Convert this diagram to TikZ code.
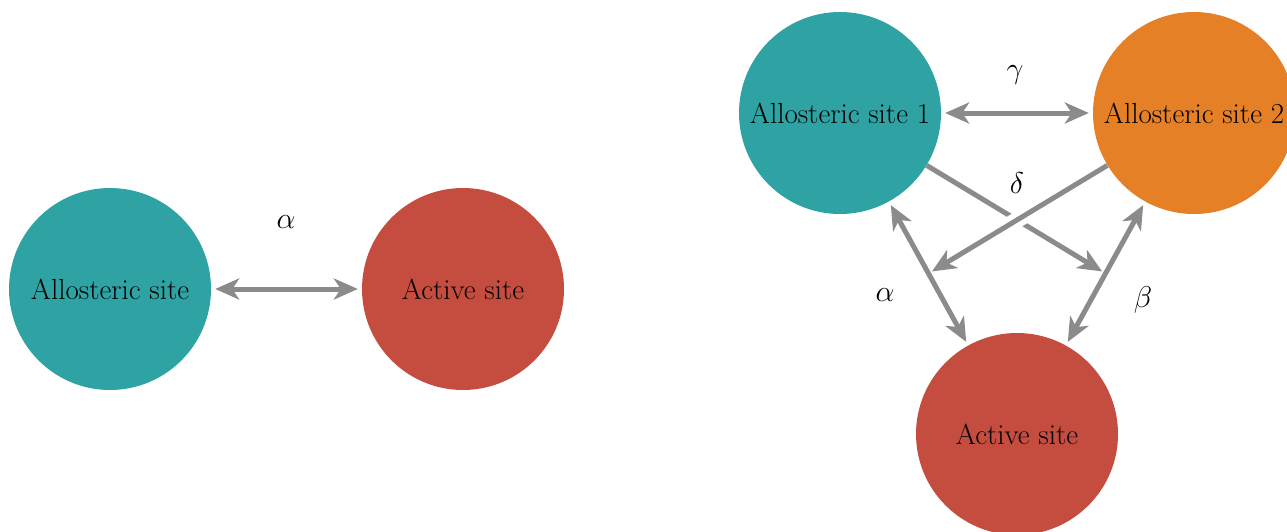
\RequirePackage{fix-cm}
\documentclass[tikz,border=0pt]{standalone}
\usepackage{amsmath}
\usetikzlibrary{arrows.meta, calc}

\definecolor{siteteal}{RGB}{47,163,164}
\definecolor{siteorange}{RGB}{229,128,39}
\definecolor{sitered}{RGB}{197,77,63}
\definecolor{linkgray}{RGB}{139,139,139}

\tikzset{
    site/.style={circle, minimum size=202pt, inner sep=0pt, text=black,
        font=\fontsize{29}{33}\selectfont},
    link/.style={draw=linkgray, line width=5pt, shorten >=4pt, shorten <=4pt},
    twohead/.style={{Stealth[length=24pt,width=21pt,inset=7pt]}-{Stealth[length=24pt,width=21pt,inset=7pt]}},
    onehead/.style={-{Stealth[length=24pt,width=21pt,inset=7pt]}},
    lbl/.style={font=\fontsize{30}{34}\selectfont}
}

\begin{document}
\begin{tikzpicture}[x=1pt, y=-1pt]
        \useasboundingbox (0,0) rectangle (1287,531);
        \clip (0,0) rectangle (1287,531);

        % one allosteric site
        \node[site, fill=siteteal] (allo) at (110,289) {Allosteric site};
        \node[site, fill=sitered] (act) at (463,289) {Active site};

        % two allosteric sites
        \node[site, fill=siteteal] (alloA) at (840,113) {Allosteric site 1};
        \node[site, fill=siteorange] (alloB) at (1194,113) {Allosteric site 2};
        \node[site, fill=sitered] (actB) at (1017,434) {Active site};

        \coordinate (midA) at ($(alloA.center)!0.5!(actB.center)$);
        \coordinate (midB) at ($(alloB.center)!0.5!(actB.center)$);

        \draw[link, twohead] (allo) -- (act);
        \draw[link, twohead] (alloA) -- (alloB);

        \draw[link, onehead, shorten <=0pt] (alloA) -- (midB);
        \draw[link, onehead, shorten <=0pt,
            preaction={draw=white, line width=16pt, arrows=-, shorten >=30pt}] (alloB) -- (midA);

        \draw[link, twohead] (alloA) -- (actB);
        \draw[link, twohead] (alloB) -- (actB);

        \node[lbl] (alphaL) at (286,222) {$\alpha$};
        \node[lbl] (gamma) at (1015,75) {$\gamma$};
        \node[lbl] (delta) at (1017,183) {$\delta$};
        \node[lbl] (alphaR) at (885,295) {$\alpha$};
        \node[lbl] (beta) at (1143,300) {$\beta$};
    \end{tikzpicture}
\end{document}
